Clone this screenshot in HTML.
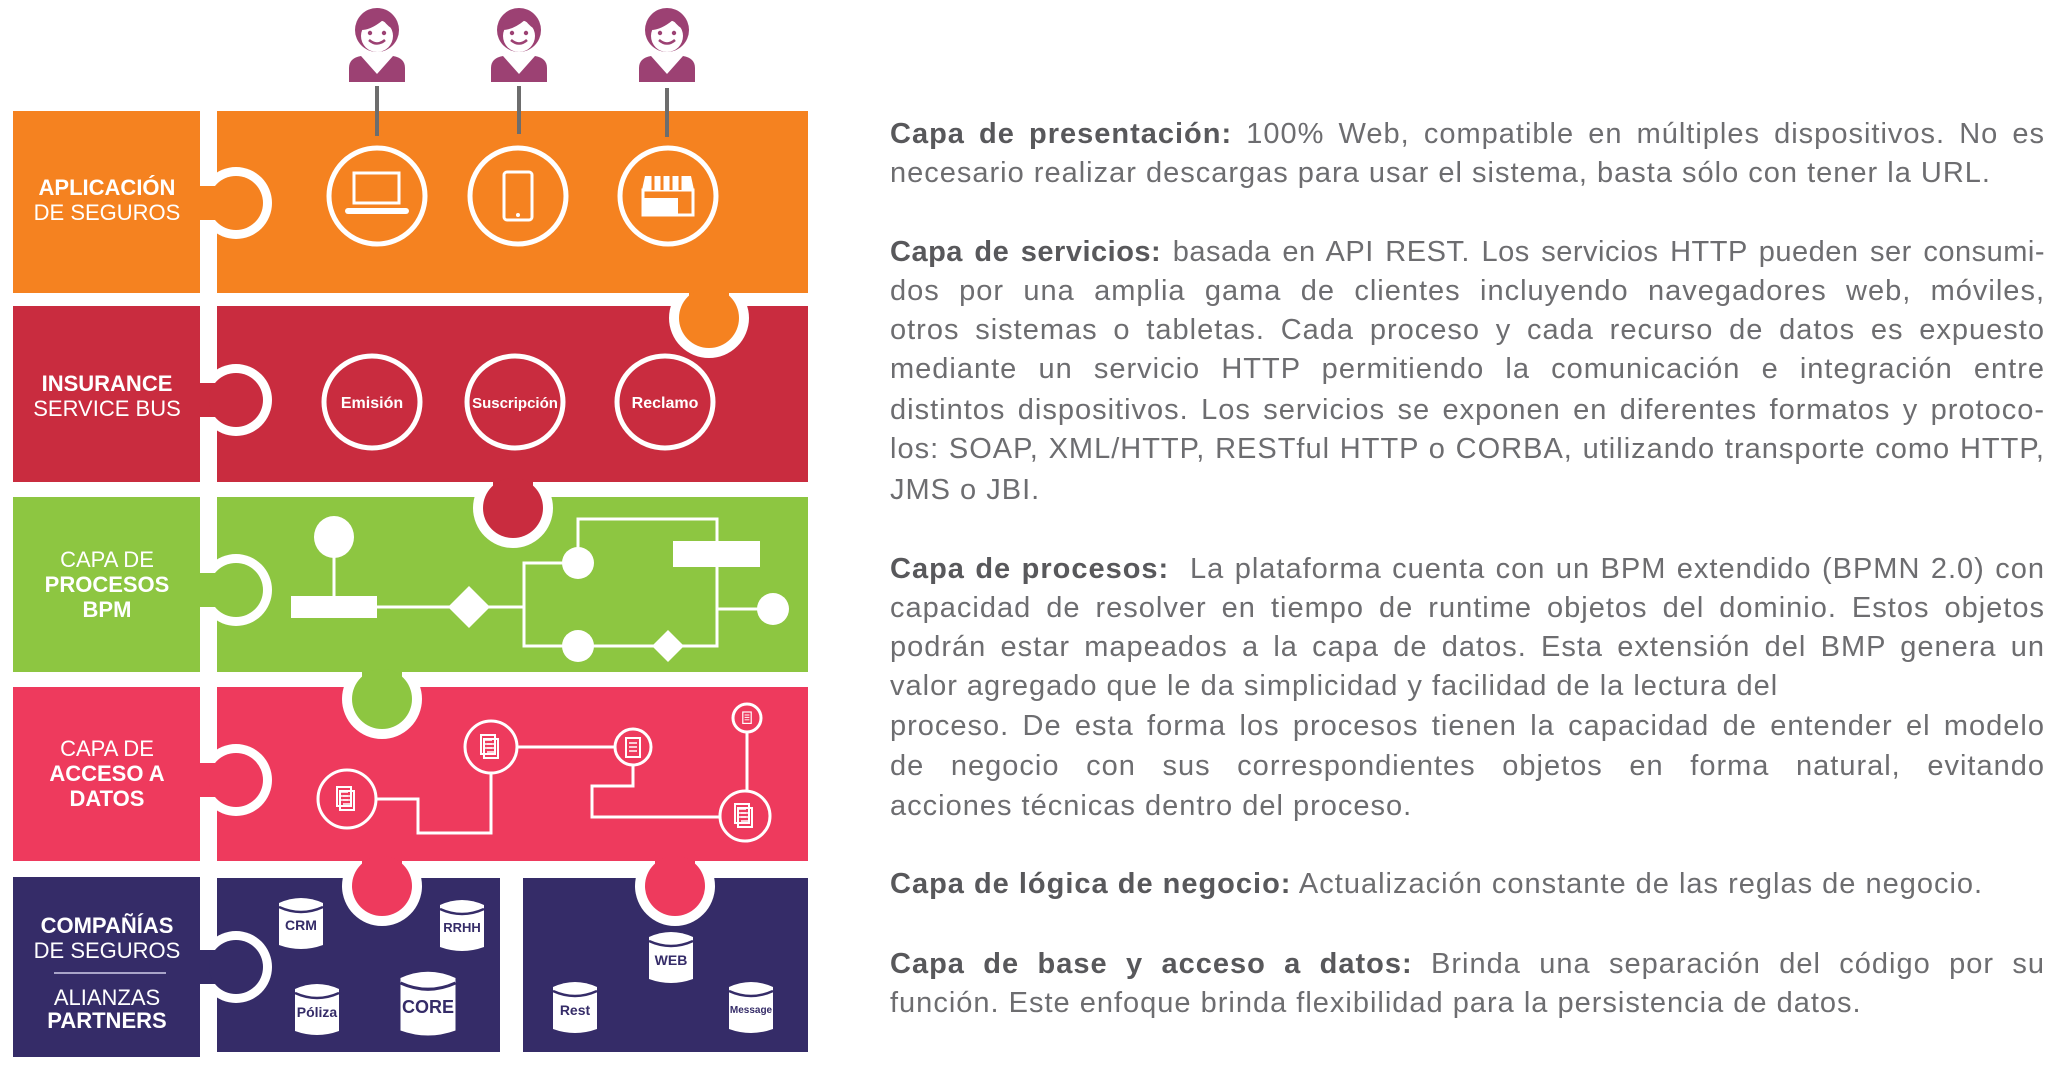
<!DOCTYPE html>
<html><head><meta charset="utf-8"><style>
html,body{margin:0;padding:0;background:#fff;width:2054px;height:1067px;overflow:hidden;position:relative}
svg{position:absolute;left:0;top:0}
.t{position:absolute;left:890px;width:1155px;height:40px;line-height:40px;font-family:"Liberation Sans",sans-serif;font-size:29px;letter-spacing:1px;color:#6d6d70;white-space:nowrap}
.j{text-align:justify;text-align-last:justify;white-space:normal;overflow:hidden}
.t b{color:#58585b}
</style></head><body>
<svg width="2054" height="1067" viewBox="0 0 2054 1067" font-family="Liberation Sans, sans-serif">
<defs>
<g id="person">
<path d="M-28,82 L-28,68 Q-28,58 -16,56 L0,74 L16,56 Q28,58 28,68 L28,82 Z" fill="#9c4173"/>
<circle cx="0" cy="30" r="22" fill="#9c4173"/>
<circle cx="0" cy="36" r="16" fill="#fff"/>
<path d="M-16,30 Q-6,30 6,20 Q12,28 18,30 L18,22 Q10,10 0,10 Q-18,12 -16,30Z" fill="#9c4173"/>
<circle cx="-7" cy="33" r="2.2" fill="#9c4173"/><circle cx="7" cy="33" r="2.2" fill="#9c4173"/>
<path d="M-8,40 Q0,47 8,40" stroke="#9c4173" stroke-width="2.5" fill="none"/>
</g>
<g id="cyl">
<path d="M-22,-20 Q0,-30 22,-20 L22,22 Q0,30 -22,22 Z" fill="#fff"/>
<path d="M-22,-16 Q0,-6 22,-16" stroke="#352c68" stroke-width="2.5" fill="none"/>
</g>
<g id="doc">
<rect x="-7" y="-10" width="14" height="19" fill="none" stroke="#fff" stroke-width="2"/>
<path d="M-4,-5h8M-4,-1h8M-4,3h8" stroke="#fff" stroke-width="1.6"/>
</g>
</defs>

<use href="#person" x="377" y="0"/>
<use href="#person" x="519" y="0"/>
<use href="#person" x="667" y="0"/>
<g stroke="#6d6d6d" stroke-width="4"><line x1="377" y1="86" x2="377" y2="136"/><line x1="519" y1="86" x2="519" y2="134"/><line x1="667" y1="88" x2="667" y2="137"/></g>

<rect x="13" y="111" width="187" height="182" fill="#f58220"/>
<rect x="217" y="111" width="591" height="182" fill="#f58220"/>
<rect x="13" y="306" width="187" height="176" fill="#c92c3f"/>
<rect x="217" y="306" width="591" height="176" fill="#c92c3f"/>
<rect x="13" y="497" width="187" height="175" fill="#8dc641"/>
<rect x="217" y="497" width="591" height="175" fill="#8dc641"/>
<rect x="13" y="687" width="187" height="174" fill="#ee3a5d"/>
<rect x="217" y="687" width="591" height="174" fill="#ee3a5d"/>
<rect x="13" y="877" width="187" height="180" fill="#352c68"/>
<rect x="217" y="878" width="283" height="174" fill="#352c68"/>
<rect x="523" y="878" width="285" height="174" fill="#352c68"/>

<g fill="#fff">
<circle cx="709" cy="318" r="40"/><circle cx="513" cy="508" r="40"/><circle cx="382" cy="699" r="40"/><circle cx="382" cy="886" r="40"/><circle cx="675" cy="886" r="40"/>
<circle cx="236" cy="203" r="36"/><circle cx="236" cy="400" r="36"/><circle cx="236" cy="590" r="36"/><circle cx="236" cy="780" r="36"/><circle cx="236" cy="967" r="36"/>
</g>
<rect x="660" y="260" width="100" height="33" fill="#f58220"/>
<rect x="465" y="460" width="100" height="22" fill="#c92c3f"/>
<rect x="335" y="650" width="100" height="22" fill="#8dc641"/>
<rect x="335" y="840" width="100" height="21" fill="#ee3a5d"/>
<rect x="628" y="840" width="100" height="21" fill="#ee3a5d"/>
<rect x="180" y="160" width="20" height="90" fill="#f58220"/>
<rect x="180" y="360" width="20" height="80" fill="#c92c3f"/>
<rect x="180" y="550" width="20" height="80" fill="#8dc641"/>
<rect x="180" y="740" width="20" height="80" fill="#ee3a5d"/>
<rect x="180" y="927" width="20" height="80" fill="#352c68"/>
<rect x="689" y="285" width="40" height="33" fill="#f58220"/><circle cx="709" cy="318" r="30" fill="#f58220"/>
<rect x="493" y="475" width="40" height="33" fill="#c92c3f"/><circle cx="513" cy="508" r="30" fill="#c92c3f"/>
<rect x="362" y="665" width="40" height="34" fill="#8dc641"/><circle cx="382" cy="699" r="30" fill="#8dc641"/>
<rect x="362" y="853" width="40" height="33" fill="#ee3a5d"/><circle cx="382" cy="886" r="30" fill="#ee3a5d"/>
<rect x="655" y="853" width="40" height="33" fill="#ee3a5d"/><circle cx="675" cy="886" r="30" fill="#ee3a5d"/>
<rect x="195" y="186" width="41" height="34" fill="#f58220"/><circle cx="236" cy="203" r="27" fill="#f58220"/>
<rect x="195" y="383" width="41" height="34" fill="#c92c3f"/><circle cx="236" cy="400" r="27" fill="#c92c3f"/>
<rect x="195" y="573" width="41" height="34" fill="#8dc641"/><circle cx="236" cy="590" r="27" fill="#8dc641"/>
<rect x="195" y="763" width="41" height="34" fill="#ee3a5d"/><circle cx="236" cy="780" r="27" fill="#ee3a5d"/>
<rect x="195" y="950" width="41" height="34" fill="#352c68"/><circle cx="236" cy="967" r="27" fill="#352c68"/>

<g stroke="#6d6d6d" stroke-width="4"><line x1="377" y1="111" x2="377" y2="136"/><line x1="519" y1="111" x2="519" y2="134"/><line x1="667" y1="111" x2="667" y2="137"/></g>

<g fill="none" stroke="#fff" stroke-width="5">
<circle cx="377" cy="196" r="48"/><circle cx="518" cy="196" r="48"/><circle cx="668" cy="196" r="48"/>
</g>
<g fill="none" stroke="#fff" stroke-width="3">
<rect x="354" y="173" width="45" height="30"/>
<rect x="504" y="172" width="28" height="48" rx="3"/>
<rect x="643" y="190" width="50" height="25"/>
</g>
<rect x="345" y="208" width="64" height="6" rx="3" fill="#fff"/>
<circle cx="518" cy="215" r="2" fill="#fff"/>
<path d="M645,176 L691,176 L694,190 L642,190 Z" fill="#fff"/>
<path d="M653,176v14M662,176v14M671,176v14M680,176v14" stroke="#f58220" stroke-width="3"/>
<rect x="643" y="198" width="35" height="17" fill="#fff"/>

<g fill="none" stroke="#fff" stroke-width="5">
<ellipse cx="372" cy="402" rx="48" ry="46"/><ellipse cx="515" cy="402" rx="48" ry="46"/><ellipse cx="665" cy="402" rx="48" ry="46"/>
</g>
<g fill="#fff" font-size="16" font-weight="bold" text-anchor="middle">
<text x="372" y="408">Emisión</text><text x="515" y="408" font-size="15">Suscripción</text><text x="665" y="408">Reclamo</text>
</g>

<g stroke="#fff" stroke-width="3" fill="none">
<line x1="334" y1="537" x2="334" y2="600"/>
<line x1="377" y1="607" x2="524" y2="607"/>
<path d="M578,563 L578,519 L717,519 L717,646 L524,646 L524,563 L578,563"/>
<line x1="717" y1="609" x2="773" y2="609"/>
</g>
<g fill="#fff">
<ellipse cx="334" cy="537" rx="20" ry="21"/>
<rect x="291" y="596" width="86" height="22"/>
<path d="M469,586 L490,607 L469,628 L448,607Z"/>
<circle cx="578" cy="563" r="16"/>
<rect x="673" y="541" width="87" height="26"/>
<circle cx="773" cy="609" r="16"/>
<circle cx="578" cy="646" r="16"/>
<path d="M668,630 L684,646 L668,662 L652,646Z"/>
</g>

<g stroke="#fff" stroke-width="3" fill="none">
<path d="M347,799 L418,799 L418,833 L491,833 L491,747 L633,747 L633,786 L592,786 L592,817 L745,817"/>
<line x1="747" y1="718" x2="747" y2="816"/>
</g>
<g stroke="#fff" stroke-width="3" fill="#ee3a5d">
<circle cx="347" cy="799" r="29"/><circle cx="491" cy="747" r="26"/><circle cx="633" cy="747" r="18"/><circle cx="747" cy="718" r="14"/><circle cx="745" cy="816" r="25"/>
</g>
<use href="#doc" x="347" y="801"/><use href="#doc" x="344" y="797"/>
<use href="#doc" x="491" y="749"/><use href="#doc" x="488" y="745"/>
<use href="#doc" x="633" y="748"/>
<g transform="translate(747,718) scale(0.6)"><use href="#doc"/></g>
<use href="#doc" x="745" y="818"/><use href="#doc" x="742" y="814"/>

<use href="#cyl" x="301" y="923"/>
<use href="#cyl" x="462" y="925"/>
<use href="#cyl" x="317" y="1009"/>
<g transform="translate(428,1003) scale(1.25)"><use href="#cyl"/></g>
<use href="#cyl" x="671" y="957"/>
<use href="#cyl" x="575" y="1007"/>
<use href="#cyl" x="751" y="1007"/>
<g fill="#352c68" font-weight="bold" text-anchor="middle">
<text x="301" y="930" font-size="14">CRM</text>
<text x="462" y="932" font-size="13">RRHH</text>
<text x="317" y="1017" font-size="14">Póliza</text>
<text x="428" y="1013" font-size="18">CORE</text>
<text x="671" y="965" font-size="14">WEB</text>
<text x="575" y="1015" font-size="14">Rest</text>
<text x="751" y="1013" font-size="10">Message</text>
</g>

<g fill="#fff" font-size="22" text-anchor="middle">
<text x="107" y="195" font-weight="bold">APLICACIÓN</text>
<text x="107" y="220">DE SEGUROS</text>
<text x="107" y="391" font-weight="bold">INSURANCE</text>
<text x="107" y="416">SERVICE BUS</text>
<text x="107" y="567">CAPA DE</text>
<text x="107" y="592" font-weight="bold">PROCESOS</text>
<text x="107" y="617" font-weight="bold">BPM</text>
<text x="107" y="756">CAPA DE</text>
<text x="107" y="781" font-weight="bold">ACCESO A</text>
<text x="107" y="806" font-weight="bold">DATOS</text>
<text x="107" y="933" font-weight="bold">COMPAÑÍAS</text>
<text x="107" y="958">DE SEGUROS</text>
<text x="107" y="1005">ALIANZAS</text>
<text x="107" y="1028" font-weight="bold">PARTNERS</text>
</g>
<line x1="54" y1="973" x2="166" y2="973" stroke="#a9a4c8" stroke-width="2"/>
</svg>

<div class="t j" style="top:114px"><b>Capa de presentación:</b> 100% Web, compatible en múltiples dispositivos. No es</div>
<div class="t" style="top:153px">necesario realizar descargas para usar el sistema, basta sólo con tener la URL.</div>

<div class="t j" style="top:232px;letter-spacing:0.5px"><b>Capa de servicios:</b> basada en API REST. Los servicios HTTP pueden ser consumi-</div>
<div class="t j" style="top:271px">dos por una amplia gama de clientes incluyendo navegadores web, móviles,</div>
<div class="t j" style="top:310px">otros sistemas o tabletas. Cada proceso y cada recurso de datos es expuesto</div>
<div class="t j" style="top:349px">mediante un servicio HTTP permitiendo la comunicación e integración entre</div>
<div class="t j" style="top:390px">distintos dispositivos. Los servicios se exponen en diferentes formatos y protoco-</div>
<div class="t j" style="top:429px">los: SOAP, XML/HTTP, RESTful HTTP o CORBA, utilizando transporte como HTTP,</div>
<div class="t" style="top:470px">JMS o JBI.</div>

<div class="t j" style="top:549px"><b>Capa de procesos:</b>&nbsp; La plataforma cuenta con un BPM extendido (BPMN 2.0) con</div>
<div class="t j" style="top:588px">capacidad de resolver en tiempo de runtime objetos del dominio. Estos objetos</div>
<div class="t j" style="top:627px">podrán estar mapeados a la capa de datos. Esta extensión del BMP genera un</div>
<div class="t" style="top:666px">valor agregado que le da simplicidad y facilidad de la lectura del</div>
<div class="t j" style="top:706px">proceso. De esta forma los procesos tienen la capacidad de entender el modelo</div>
<div class="t j" style="top:746px">de negocio con sus correspondientes objetos en forma natural, evitando</div>
<div class="t" style="top:786px">acciones técnicas dentro del proceso.</div>

<div class="t" style="top:864px"><b>Capa de lógica de negocio:</b> Actualización constante de las reglas de negocio.</div>

<div class="t j" style="top:944px"><b>Capa de base y acceso a datos:</b> Brinda una separación del código por su</div>
<div class="t" style="top:983px">función. Este enfoque brinda flexibilidad para la persistencia de datos.</div>
</body></html>
